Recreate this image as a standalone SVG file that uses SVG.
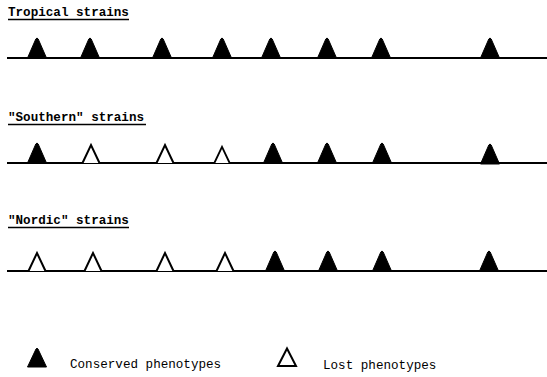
<svg xmlns="http://www.w3.org/2000/svg" xmlns:xlink="http://www.w3.org/1999/xlink" width="547" height="377" viewBox="0 0 547 377">
<style>
.t{font-family:"Liberation Mono","DejaVu Sans Mono",monospace;font-size:12.6px;fill:#000;}
.tb{font-weight:bold;}
.ul{stroke:#000;stroke-width:1.3;}
.base{stroke:#000;stroke-width:2;fill:none;}
.f{fill:#000;stroke:#000;stroke-width:1;stroke-linejoin:round;}
.h{fill:#fff;stroke:#000;stroke-width:2;stroke-linejoin:miter;}
</style>
<defs>
<path id="tf" class="f" d="M-9.5,0 L-1.2,-19 Q0,-21 1.2,-19 L9.5,0 Z"/>
<path id="th" class="h" d="M-8.5,0 L0,-18 L8.5,0"/>
<path id="tfl" class="f" d="M-9.5,0 L-1,-18 Q0,-19.5 1,-18 L9.5,0 Z"/>
<path id="thc" class="h" d="M-9,0 L0,-17.5 L9,0 Z"/>
</defs>
<g id="titles">
<text class="t tb" x="8" y="16">Tropical strains</text>
<line class="ul" x1="8" y1="19.5" x2="129" y2="19.5"/>
<text class="t tb" x="8" y="121">"Southern" strains</text>
<line class="ul" x1="8" y1="124.5" x2="146" y2="124.5"/>
<text class="t tb" x="8" y="224">"Nordic" strains</text>
<line class="ul" x1="8" y1="227.5" x2="129" y2="227.5"/>
</g>
<g id="connectors">
<line class="base" x1="7" y1="58" x2="547" y2="58"/>
<line class="base" x1="7" y1="163" x2="547" y2="163"/>
<line class="base" x1="7" y1="271" x2="547" y2="271"/>
</g>
<g id="row1">
<g id="r1n1"><use xlink:href="#tf" x="37" y="58"/></g>
<g id="r1n2"><use xlink:href="#tf" x="90" y="58"/></g>
<g id="r1n3"><use xlink:href="#tf" x="162" y="58"/></g>
<g id="r1n4"><use xlink:href="#tf" x="222" y="58"/></g>
<g id="r1n5"><use xlink:href="#tf" x="271" y="58"/></g>
<g id="r1n6"><use xlink:href="#tf" x="327" y="58"/></g>
<g id="r1n7"><use xlink:href="#tf" x="381" y="58"/></g>
<g id="r1n8"><use xlink:href="#tf" x="490" y="58"/></g>
</g>
<g id="row2">
<g id="r2n1"><use xlink:href="#tf" x="37" y="163"/></g>
<g id="r2n2"><use xlink:href="#th" x="91" y="163"/></g>
<g id="r2n3"><use xlink:href="#th" x="165" y="163"/></g>
<g id="r2n4"><use xlink:href="#th" x="222" y="163" transform="translate(222 163) scale(0.9) translate(-222 -163)"/></g>
<g id="r2n5"><use xlink:href="#tf" x="273" y="163"/></g>
<g id="r2n6"><use xlink:href="#tf" x="327" y="163"/></g>
<g id="r2n7"><use xlink:href="#tf" x="382" y="163"/></g>
<g id="r2n8"><use xlink:href="#tf" x="490" y="164"/></g>
</g>
<g id="row3">
<g id="r3n1"><use xlink:href="#th" x="37" y="271"/></g>
<g id="r3n2"><use xlink:href="#th" x="93" y="271"/></g>
<g id="r3n3"><use xlink:href="#th" x="165" y="271"/></g>
<g id="r3n4"><use xlink:href="#th" x="225" y="271"/></g>
<g id="r3n5"><use xlink:href="#tf" x="275" y="271"/></g>
<g id="r3n6"><use xlink:href="#tf" x="328" y="271"/></g>
<g id="r3n7"><use xlink:href="#tf" x="382" y="271"/></g>
<g id="r3n8"><use xlink:href="#tf" x="489" y="271"/></g>
</g>
<g id="legend-conserved">
<use xlink:href="#tfl" x="37" y="367"/>
<text class="t" x="70" y="368">Conserved phenotypes</text>
</g>
<g id="legend-lost">
<use xlink:href="#thc" x="287" y="366"/>
<text class="t" x="323" y="369">Lost phenotypes</text>
</g>
</svg>
